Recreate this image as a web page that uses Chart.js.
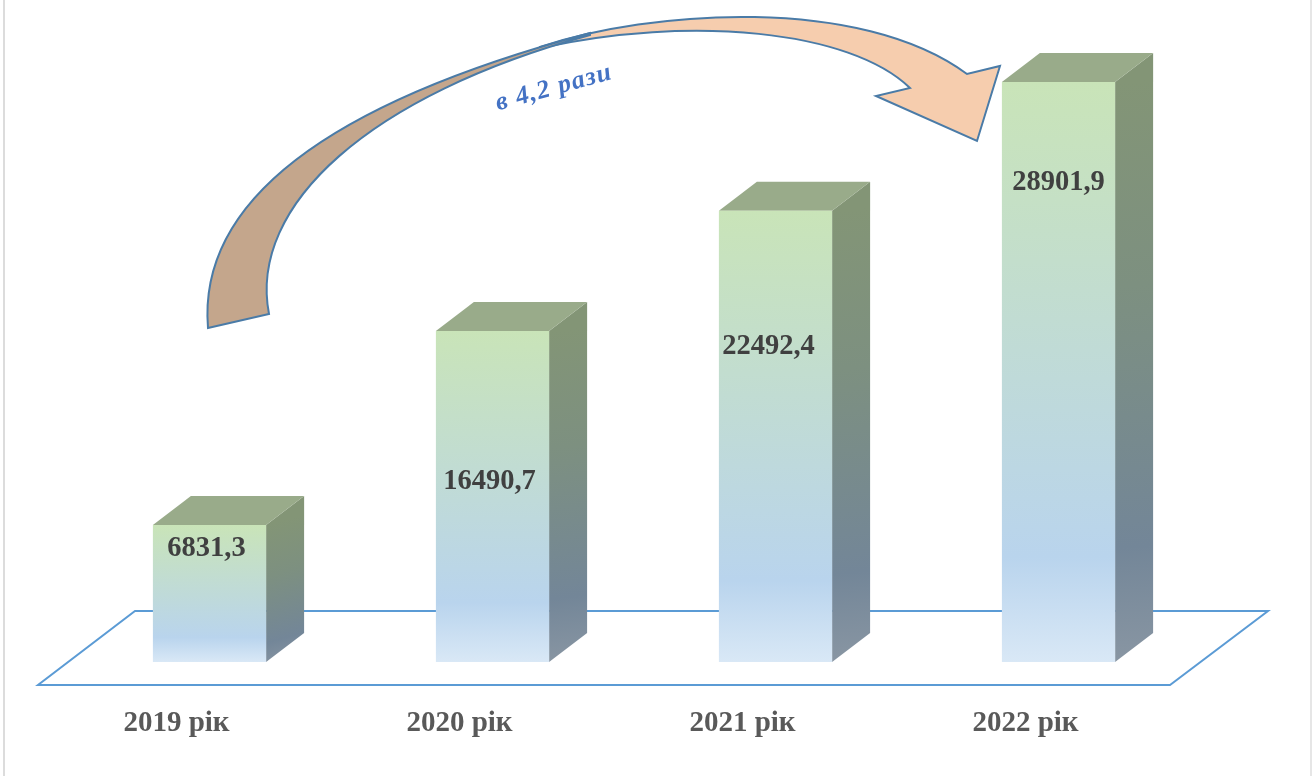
<!DOCTYPE html>
<html>
<head>
<meta charset="utf-8">
<script src="https://cdn.jsdelivr.net/npm/chart.js@4/dist/chart.umd.min.js"></script>
<style>
  html, body { margin: 0; background: #fff; }
  .frame { position: absolute; left: 3px; top: 0; width: 1305px; height: 776px; border-left: 2px solid #dcdcdc; border-right: 2px solid #e6e6e6; }
  canvas { position: absolute; left: 0; top: 0; filter: blur(0.45px); }
</style>
</head>
<body>
<div class="frame"></div>
<canvas id="chart" width="1315" height="776"></canvas>
<script>
const years = ['2019 рік', '2020 рік', '2021 рік', '2022 рік'];
const income = [6831.3, 16490.7, 22492.4, 28901.9];
const growthNote = 'в 4,2 рази';

// depth of the fake 3d box
const DX = 38, DY = 29;
const SERIF = '"Liberation Serif", serif';
// hand placed value labels, offset from bar top centre
const labelNudge = [[-3, 24], [-3, 151], [-7, 136], [0, 101]];

function poly(ctx, pts, fill) {
  ctx.beginPath();
  pts.forEach((p, i) => (i ? ctx.lineTo(p[0], p[1]) : ctx.moveTo(p[0], p[1])));
  ctx.closePath();
  ctx.fillStyle = fill;
  ctx.fill();
}

const box3d = {
  id: 'box3d',
  beforeDatasetsDraw(chart) {
    const { ctx, chartArea } = chart;
    const base = chartArea.bottom;
    // floor
    ctx.save();
    ctx.beginPath();
    ctx.moveTo(135, base - 51);
    ctx.lineTo(1268, base - 51);
    ctx.lineTo(1170, base + 23);
    ctx.lineTo(38, base + 23);
    ctx.closePath();
    ctx.strokeStyle = '#5b9bd5';
    ctx.lineWidth = 2;
    ctx.lineJoin = 'miter';
    ctx.stroke();

    chart.getDatasetMeta(0).data.forEach(bar => {
      const r = bar.x + bar.width / 2, l = bar.x - bar.width / 2;
      const side = ctx.createLinearGradient(r, bar.y, r + DX, bar.base);
      side.addColorStop(0, '#839576');
      side.addColorStop(0.35, '#7d9080');
      side.addColorStop(0.8, '#738698');
      side.addColorStop(1, '#8996a3');
      poly(ctx, [[r, bar.y], [r + DX, bar.y - DY], [r + DX, bar.base - DY], [r, bar.base]], side);
      poly(ctx, [[l, bar.y], [l + DX, bar.y - DY], [r + DX, bar.y - DY], [r, bar.y]], '#99ab8a');
    });
    ctx.restore();
  },
  afterDatasetsDraw(chart) {
    const { ctx } = chart;
    ctx.save();
    ctx.font = 'bold 28.5px ' + SERIF;
    ctx.fillStyle = '#404040';
    ctx.textAlign = 'center';
    ctx.textBaseline = 'middle';
    chart.getDatasetMeta(0).data.forEach((bar, i) => {
      ctx.fillText(String(income[i]).replace('.', ','), bar.x + labelNudge[i][0], bar.y + labelNudge[i][1]);
    });
    ctx.restore();
  }
};

const arrow = {
  id: 'arrow',
  afterDraw(chart) {
    const { ctx } = chart;
    ctx.save();
    ctx.lineWidth = 2;
    ctx.lineJoin = 'miter';
    ctx.strokeStyle = '#4a7ba7';

    // head part
    ctx.beginPath();
    ctx.moveTo(540, 47);
    ctx.bezierCurveTo(650, 10, 860, -5, 967, 74);
    ctx.lineTo(1000, 66);
    ctx.lineTo(977, 141);
    ctx.lineTo(876, 96);
    ctx.lineTo(910, 88);
    ctx.bezierCurveTo(850, 30, 690, 15, 540, 48);
    ctx.closePath();
    ctx.fillStyle = '#f6cdae';
    ctx.fill();
    ctx.stroke();

    // tail part, the darker underside
    ctx.beginPath();
    ctx.moveTo(208, 328);
    ctx.bezierCurveTo(197, 195, 340, 100, 590, 33);
    ctx.lineTo(590, 35);
    ctx.bezierCurveTo(370, 95, 248, 205, 269, 314);
    ctx.closePath();
    ctx.fillStyle = '#c4a68c';
    ctx.fill();
    ctx.stroke();

    ctx.translate(554, 88);
    ctx.rotate(-15.5 * Math.PI / 180);
    ctx.font = 'italic bold 26px ' + SERIF;
    ctx.letterSpacing = '1.2px';
    ctx.fillStyle = '#4472c4';
    ctx.textAlign = 'center';
    ctx.textBaseline = 'middle';
    ctx.fillText(growthNote, 0, 0);
    ctx.restore();
  }
};

new Chart(document.getElementById('chart'), {
  type: 'bar',
  data: {
    labels: years,
    datasets: [{
      data: income,
      barPercentage: 0.4,
      categoryPercentage: 1,
      borderWidth: 0,
      backgroundColor(c) {
        const y = c.chart.scales.y;
        const top = y && c.raw !== undefined ? y.getPixelForValue(c.raw) : NaN;
        const bottom = y ? y.getPixelForValue(0) : NaN;
        if (!isFinite(top) || !isFinite(bottom)) return '#c9e4b8';
        const g = c.chart.ctx.createLinearGradient(0, top, 0, bottom);
        g.addColorStop(0, '#c9e4b8');
        g.addColorStop(0.82, '#b9d4ed');
        g.addColorStop(1, '#d9e8f6');
        return g;
      }
    }]
  },
  plugins: [box3d, arrow],
  options: {
    responsive: false,
    animation: false,
    layout: { padding: { left: 68, right: 115, top: 60, bottom: 0 } },
    plugins: { legend: { display: false }, tooltip: { enabled: false } },
    scales: {
      y: { display: false, min: 0, max: 30000 },
      x: {
        afterFit(s) { s.height = 114; },
        grid: { display: false, drawTicks: false },
        border: { display: false },
        ticks: {
          autoSkip: false,
          maxRotation: 0,
          labelOffset: -33,
          padding: 44,
          color: '#595959',
          font: { family: SERIF, size: 29, weight: 'bold' }
        }
      }
    }
  }
});
</script>
</body>
</html>
